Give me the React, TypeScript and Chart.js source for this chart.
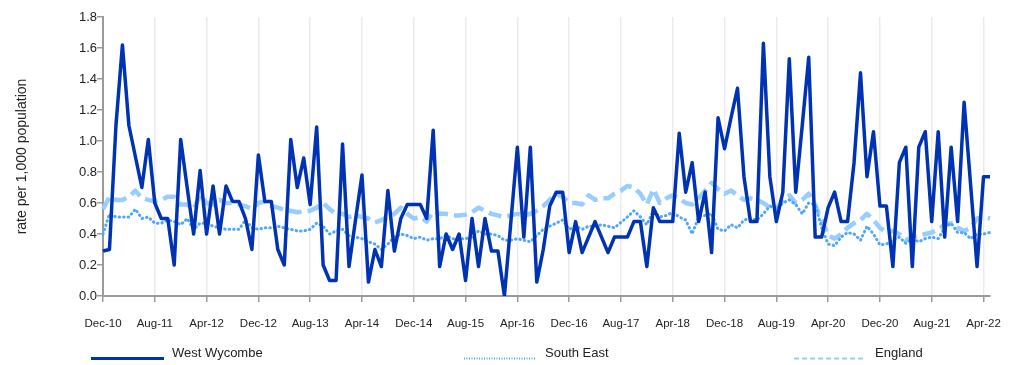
import React, { useEffect, useRef } from "react";
import { Chart, registerables } from "chart.js";

Chart.register(...registerables);

const LABELS: string[] = [
  "Dec-10",
  "Jan-11", "Feb-11", "Mar-11", "Apr-11", "May-11", "Jun-11", "Jul-11", "Aug-11", "Sep-11", "Oct-11", "Nov-11", "Dec-11",
  "Jan-12", "Feb-12", "Mar-12", "Apr-12", "May-12", "Jun-12", "Jul-12", "Aug-12", "Sep-12", "Oct-12", "Nov-12", "Dec-12",
  "Jan-13", "Feb-13", "Mar-13", "Apr-13", "May-13", "Jun-13", "Jul-13", "Aug-13", "Sep-13", "Oct-13", "Nov-13", "Dec-13",
  "Jan-14", "Feb-14", "Mar-14", "Apr-14", "May-14", "Jun-14", "Jul-14", "Aug-14", "Sep-14", "Oct-14", "Nov-14", "Dec-14",
  "Jan-15", "Feb-15", "Mar-15", "Apr-15", "May-15", "Jun-15", "Jul-15", "Aug-15", "Sep-15", "Oct-15", "Nov-15", "Dec-15",
  "Jan-16", "Feb-16", "Mar-16", "Apr-16", "May-16", "Jun-16", "Jul-16", "Aug-16", "Sep-16", "Oct-16", "Nov-16", "Dec-16",
  "Jan-17", "Feb-17", "Mar-17", "Apr-17", "May-17", "Jun-17", "Jul-17", "Aug-17", "Sep-17", "Oct-17", "Nov-17", "Dec-17",
  "Jan-18", "Feb-18", "Mar-18", "Apr-18", "May-18", "Jun-18", "Jul-18", "Aug-18", "Sep-18", "Oct-18", "Nov-18", "Dec-18",
  "Jan-19", "Feb-19", "Mar-19", "Apr-19", "May-19", "Jun-19", "Jul-19", "Aug-19", "Sep-19", "Oct-19", "Nov-19", "Dec-19",
  "Jan-20", "Feb-20", "Mar-20", "Apr-20", "May-20", "Jun-20", "Jul-20", "Aug-20", "Sep-20", "Oct-20", "Nov-20", "Dec-20",
  "Jan-21", "Feb-21", "Mar-21", "Apr-21", "May-21", "Jun-21", "Jul-21", "Aug-21", "Sep-21", "Oct-21", "Nov-21", "Dec-21",
  "Jan-22", "Feb-22", "Mar-22", "Apr-22", "May-22",
];

const WEST_WYCOMBE: number[] = [
  0.29, 0.30, 1.10, 1.62, 1.10, 0.90, 0.70, 1.01, 0.60, 0.50,
  0.50, 0.20, 1.01, 0.70, 0.40, 0.81, 0.40, 0.71, 0.40, 0.71,
  0.61, 0.61, 0.50, 0.30, 0.91, 0.61, 0.61, 0.30, 0.20, 1.01,
  0.70, 0.89, 0.59, 1.09, 0.20, 0.10, 0.10, 0.98, 0.19, 0.49,
  0.78, 0.09, 0.30, 0.19, 0.68, 0.29, 0.50, 0.59, 0.59, 0.59,
  0.50, 1.07, 0.19, 0.40, 0.30, 0.40, 0.10, 0.50, 0.19, 0.50,
  0.29, 0.29, 0.00, 0.48, 0.96, 0.38, 0.96, 0.09, 0.30, 0.58,
  0.67, 0.67, 0.28, 0.48, 0.28, 0.38, 0.48, 0.38, 0.28, 0.38,
  0.38, 0.38, 0.48, 0.48, 0.19, 0.57, 0.48, 0.48, 0.48, 1.05,
  0.67, 0.86, 0.48, 0.67, 0.28, 1.15, 0.95, 1.15, 1.34, 0.77,
  0.48, 0.48, 1.63, 0.77, 0.48, 0.67, 1.53, 0.67, 1.10, 1.54,
  0.38, 0.38, 0.57, 0.67, 0.48, 0.48, 0.86, 1.44, 0.77, 1.06,
  0.58, 0.58, 0.19, 0.86, 0.96, 0.19, 0.96, 1.06, 0.48, 1.06,
  0.38, 0.96, 0.48, 1.25, 0.72, 0.19, 0.77, 0.77,
];

const SOUTH_EAST: number[] = [
  0.40, 0.53, 0.51, 0.51, 0.51, 0.56, 0.50, 0.51, 0.47, 0.47,
  0.49, 0.48, 0.46, 0.50, 0.43, 0.47, 0.47, 0.45, 0.44, 0.43,
  0.43, 0.43, 0.49, 0.44, 0.43, 0.44, 0.44, 0.45, 0.44, 0.43,
  0.42, 0.42, 0.43, 0.47, 0.45, 0.40, 0.42, 0.43, 0.39, 0.38,
  0.37, 0.35, 0.335, 0.30, 0.335, 0.38, 0.40, 0.39, 0.37, 0.38,
  0.36, 0.37, 0.37, 0.39, 0.37, 0.37, 0.37, 0.38, 0.42, 0.40,
  0.40, 0.39, 0.36, 0.36, 0.37, 0.36, 0.35, 0.39, 0.43, 0.45,
  0.47, 0.49, 0.43, 0.45, 0.43, 0.45, 0.45, 0.46, 0.45, 0.44,
  0.475, 0.51, 0.55, 0.51, 0.46, 0.55, 0.51, 0.52, 0.54, 0.51,
  0.49, 0.40, 0.51, 0.52, 0.53, 0.43, 0.42, 0.46, 0.44, 0.49,
  0.50, 0.49, 0.53, 0.58, 0.56, 0.60, 0.62, 0.59, 0.53, 0.60,
  0.59, 0.44, 0.335, 0.325, 0.38, 0.41, 0.40, 0.36, 0.45, 0.40,
  0.33, 0.335, 0.36, 0.38, 0.34, 0.37, 0.35, 0.37, 0.38, 0.37,
  0.44, 0.47, 0.41, 0.41, 0.37, 0.40, 0.40, 0.41,
];

const ENGLAND: number[] = [
  0.56, 0.64, 0.62, 0.62, 0.64, 0.68, 0.63, 0.62, 0.61, 0.62,
  0.64, 0.64, 0.59, 0.59, 0.56, 0.65, 0.60, 0.59, 0.62, 0.60,
  0.60, 0.59, 0.58, 0.56, 0.60, 0.61, 0.58, 0.57, 0.555, 0.55,
  0.54, 0.545, 0.55, 0.57, 0.60, 0.56, 0.53, 0.53, 0.51, 0.52,
  0.51, 0.50, 0.475, 0.49, 0.51, 0.53, 0.57, 0.53, 0.50, 0.51,
  0.48, 0.545, 0.53, 0.53, 0.52, 0.52, 0.525, 0.54, 0.57, 0.55,
  0.53, 0.52, 0.51, 0.52, 0.53, 0.52, 0.53, 0.55, 0.58, 0.62,
  0.66, 0.64, 0.60, 0.60, 0.59, 0.65, 0.62, 0.63, 0.63, 0.66,
  0.68, 0.71, 0.70, 0.66, 0.59, 0.69, 0.60, 0.63, 0.65, 0.63,
  0.60, 0.59, 0.63, 0.68, 0.73, 0.69, 0.66, 0.68, 0.65, 0.62,
  0.63, 0.62, 0.60, 0.57, 0.56, 0.62, 0.65, 0.60, 0.62, 0.66,
  0.59, 0.49, 0.39, 0.37, 0.40, 0.44, 0.47, 0.49, 0.53, 0.49,
  0.44, 0.41, 0.42, 0.40, 0.36, 0.38, 0.39, 0.40, 0.41, 0.43,
  0.46, 0.47, 0.44, 0.42, 0.44, 0.50, 0.51, 0.50,
];

const SERIES_NAMES = ["West Wycombe", "South East", "England"];
const Y_TITLE = "rate per 1,000 population";
const TICK_EVERY = 8;

const FONT = "'Liberation Sans', Arial, Helvetica, sans-serif";
const TEXT_COLOR = "#222222";
const AXIS_COLOR = "#9a9a9a";
const GRID_COLOR = "#ebebeb";
const COLORS = ["#0033b4", "#4da6ff", "#99ccff"];

const LEGEND_LAYOUT = [
  { x0: 91, x1: 164, tx: 172, width: 3, dash: [] as number[] },
  { x0: 464, x1: 536, tx: 545, width: 2, dash: [1, 1.5] },
  { x0: 794, x1: 866, tx: 875, width: 2, dash: [5, 3] },
];

const legendPlugin = {
  id: "customLegend",
  afterDraw(chart: any) {
    const ctx: CanvasRenderingContext2D = chart.ctx;
    LEGEND_LAYOUT.forEach((it, i) => {
      const ds = chart.data.datasets[i];
      ctx.save();
      ctx.strokeStyle = ds.borderColor;
      ctx.lineWidth = it.width;
      ctx.lineCap = "butt";
      ctx.setLineDash(it.dash);
      ctx.beginPath();
      ctx.moveTo(it.x0, 358.5);
      ctx.lineTo(it.x1, 358.5);
      ctx.stroke();
      ctx.setLineDash([]);
      ctx.fillStyle = TEXT_COLOR;
      ctx.font = `13px ${FONT}`;
      ctx.textBaseline = "middle";
      ctx.textAlign = "left";
      ctx.fillText(ds.label, it.tx, 353);
      ctx.restore();
    });
  },
};

export default function App() {
  const ref = useRef<HTMLCanvasElement | null>(null);

  useEffect(() => {
    document.body.style.margin = "0";
    const canvas = ref.current;
    if (!canvas) return;
    const chart = new Chart(canvas, {
      type: "line",
      data: {
        labels: LABELS,
        datasets: [
          {
            label: SERIES_NAMES[0],
            data: WEST_WYCOMBE,
            borderColor: COLORS[0],
            backgroundColor: COLORS[0],
            borderWidth: 3.5,
            borderJoinStyle: "round",
            pointRadius: 0,
            tension: 0,
            fill: false,
          },
          {
            label: SERIES_NAMES[1],
            data: SOUTH_EAST,
            borderColor: COLORS[1],
            backgroundColor: COLORS[1],
            borderWidth: 3,
            borderDash: [0.5, 4],
            borderCapStyle: "round",
            borderJoinStyle: "round",
            pointRadius: 0,
            tension: 0,
            fill: false,
          },
          {
            label: SERIES_NAMES[2],
            data: ENGLAND,
            borderColor: COLORS[2],
            backgroundColor: COLORS[2],
            borderWidth: 4.5,
            borderDash: [13, 6],
            borderJoinStyle: "round",
            pointRadius: 0,
            tension: 0,
            fill: false,
          },
        ],
      },
      options: {
        responsive: false,
        animation: false,
        devicePixelRatio: 1,
        layout: { padding: { top: 17, right: 39, bottom: 0, left: 0 } },
        plugins: {
          legend: { display: false },
          tooltip: { enabled: false },
        },
        scales: {
          x: {
            type: "category",
            offset: false,
            border: { color: AXIS_COLOR, width: 2 },
            grid: {
              color: (c: any) => (c.index % TICK_EVERY === 0 ? GRID_COLOR : "rgba(0,0,0,0)"),
              tickColor: (c: any) => (c.index % TICK_EVERY === 0 ? AXIS_COLOR : "rgba(0,0,0,0)"),
              lineWidth: 1.5,
              tickWidth: 1.5,
              tickLength: 6,
            },
            ticks: {
              autoSkip: false,
              maxRotation: 0,
              minRotation: 0,
              padding: 15,
              color: TEXT_COLOR,
              font: { family: FONT, size: 11.5 },
              callback: (_v: any, i: number) => (i % TICK_EVERY === 0 ? LABELS[i] : ""),
            },
            afterFit: (s: any) => {
              s.height = 69;
            },
          },
          y: {
            min: 0,
            max: 1.8,
            border: { color: AXIS_COLOR, width: 2 },
            grid: {
              drawOnChartArea: false,
              color: AXIS_COLOR,
              lineWidth: 1.5,
              tickLength: 6,
            },
            ticks: {
              stepSize: 0.2,
              padding: 0,
              color: TEXT_COLOR,
              font: { family: FONT, size: 13 },
              callback: (v: any) => Number(v).toFixed(1),
            },
            title: {
              display: true,
              text: Y_TITLE,
              color: TEXT_COLOR,
              font: { family: FONT, size: 14 },
              padding: { top: 13.6, bottom: 0 },
            },
            afterFit: (s: any) => {
              s.width = 103;
            },
          },
        },
      },
      plugins: [legendPlugin],
    });
    return () => chart.destroy();
  }, []);

  return (
    <div style={{ width: 1029, height: 365, position: "relative" }}>
      <canvas ref={ref} width={1029} height={365} style={{ display: "block" }} />
    </div>
  );
}
